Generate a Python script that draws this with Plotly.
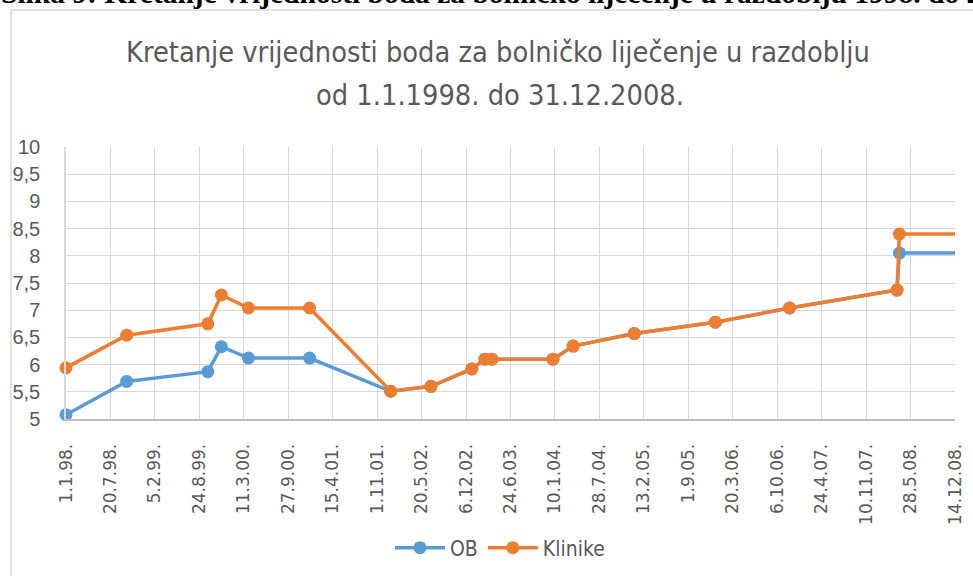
import plotly.graph_objects as go

# ---- data ----
dates = ["1998-01-01", "1998-10-01", "1999-10-01", "1999-12-01", "2000-04-01",
         "2001-01-01", "2002-01-01", "2002-07-01", "2003-01-01", "2003-03-01",
         "2003-04-01", "2004-01-01", "2004-04-01", "2005-01-01", "2006-01-01",
         "2006-12-01", "2008-03-28", "2008-04-08", "2008-12-31"]
ob = [5.08, 5.69, 5.87, 6.33, 6.12, 6.12, 5.51, 5.60, 5.92, 6.10,
      6.10, 6.10, 6.34, 6.57, 6.78, 7.04, 7.37, 8.05, 8.05]
klinike = [5.94, 6.54, 6.75, 7.28, 7.04, 7.04, 5.51, 5.60, 5.92, 6.10,
           6.10, 6.10, 6.34, 6.57, 6.78, 7.04, 7.37, 8.40, 8.40]

x_tick_vals = ["1998-01-01", "1998-07-20", "1999-02-05", "1999-08-24", "2000-03-11",
               "2000-09-27", "2001-04-15", "2001-11-01", "2002-05-20", "2002-12-06",
               "2003-06-24", "2004-01-10", "2004-07-28", "2005-02-13", "2005-09-01",
               "2006-03-20", "2006-10-06", "2007-04-24", "2007-11-10", "2008-05-28",
               "2008-12-14"]
x_tick_text = ["1.1.98.", "20.7.98.", "5.2.99.", "24.8.99.", "11.3.00.",
               "27.9.00.", "15.4.01.", "1.11.01.", "20.5.02.", "6.12.02.",
               "24.6.03.", "10.1.04.", "28.7.04.", "13.2.05.", "1.9.05.",
               "20.3.06.", "6.10.06.", "24.4.07.", "10.11.07.", "28.5.08.",
               "14.12.08."]
y_tick_vals = [5, 5.5, 6, 6.5, 7, 7.5, 8, 8.5, 9, 9.5, 10]
y_tick_text = ["5", "5,5", "6", "6,5", "7", "7,5", "8", "8,5", "9", "9,5", "10"]

title_line1 = "Kretanje vrijednosti boda za bolničko liječenje u razdoblju"
title_line2 = "od 1.1.1998. do 31.12.2008."
caption = "Slika 9: Kretanje vrijednosti boda za bolničko liječenje u razdoblju 1998. do 2008."

# ---- geometry helpers (pixel -> paper) ----
W, H = 973, 576
L, R, T, B = 66, 18, 147, 157
PW, PH = W - L - R, H - T - B


def px(p):
    return (p - L) / PW


def py(p):
    return (H - B - p) / PH


BLUE = "#5B9BD5"
ORANGE = "#ED7D31"
GREY_TXT = "#595959"
GRID = "#D9D9D9"

fig = go.Figure()
fig.add_trace(go.Scatter(x=dates, y=ob, name="OB", mode="lines+markers",
                         line=dict(color=BLUE, width=3.5),
                         marker=dict(color=BLUE, size=13),
                         cliponaxis=False))
fig.add_trace(go.Scatter(x=dates, y=klinike, name="Klinike", mode="lines+markers",
                         line=dict(color=ORANGE, width=3.5),
                         marker=dict(color=ORANGE, size=13),
                         cliponaxis=False))

fig.update_layout(
    width=W, height=H,
    margin=dict(l=L, r=R, t=T, b=B, pad=0, autoexpand=False),
    paper_bgcolor="white", plot_bgcolor="white",
    showlegend=True,
    legend=dict(orientation="h", x=px(500), y=py(548), xanchor="center", yanchor="middle",
                font=dict(family="Liberation Sans Narrow, DejaVu Sans Condensed, sans-serif",
                          size=21, color=GREY_TXT),
                itemwidth=50, tracegroupgap=0),
    xaxis=dict(type="date", range=["1998-01-01", "2008-12-14"], automargin=False,
               tickmode="array", tickvals=x_tick_vals, ticktext=x_tick_text,
               tickangle=-90, ticks="outside", ticklen=16, tickcolor="rgba(0,0,0,0)",
               tickfont=dict(family="DejaVu Sans", size=17, color=GREY_TXT),
               showgrid=True, gridcolor=GRID, gridwidth=1.3,
               showline=True, linecolor="#BFBFBF", linewidth=2, zeroline=False),
    yaxis=dict(range=[5, 10], automargin=False, tickmode="array",
               tickvals=y_tick_vals, ticktext=y_tick_text,
               ticks="outside", ticklen=20, tickcolor="rgba(0,0,0,0)",
               tickfont=dict(family="Liberation Sans, Arial, sans-serif", size=20, color=GREY_TXT),
               showgrid=True, gridcolor=GRID, gridwidth=1.3,
               showline=True, linecolor=GRID, linewidth=1.5, zeroline=False),
    shapes=[dict(type="rect", xref="paper", yref="paper",
                 x0=px(11), x1=px(990), y0=py(600), y1=py(10),
                 line=dict(color=GRID, width=1.5), fillcolor="rgba(0,0,0,0)", layer="below")],
    annotations=[
        dict(text=title_line1, xref="paper", yref="paper", x=px(498), y=py(52),
             xanchor="center", yanchor="middle", showarrow=False,
             font=dict(family="Liberation Sans Narrow, DejaVu Sans Condensed, sans-serif",
                       size=28.7, color=GREY_TXT)),
        dict(text=title_line2, xref="paper", yref="paper", x=px(500), y=py(95),
             xanchor="center", yanchor="middle", showarrow=False,
             font=dict(family="Liberation Sans Narrow, DejaVu Sans Condensed, sans-serif",
                       size=28.7, color=GREY_TXT)),
        dict(text="<b>" + caption + "</b>", xref="paper", yref="paper", x=px(-1), y=py(11.5),
             xanchor="left", yanchor="bottom", showarrow=False,
             font=dict(family="Liberation Serif, Times New Roman, serif", size=29.5, color="black")),
    ],
)

fig.write_html("out.html", config={"displayModeBar": False},
               post_script="document.body.style.margin='0px';")
